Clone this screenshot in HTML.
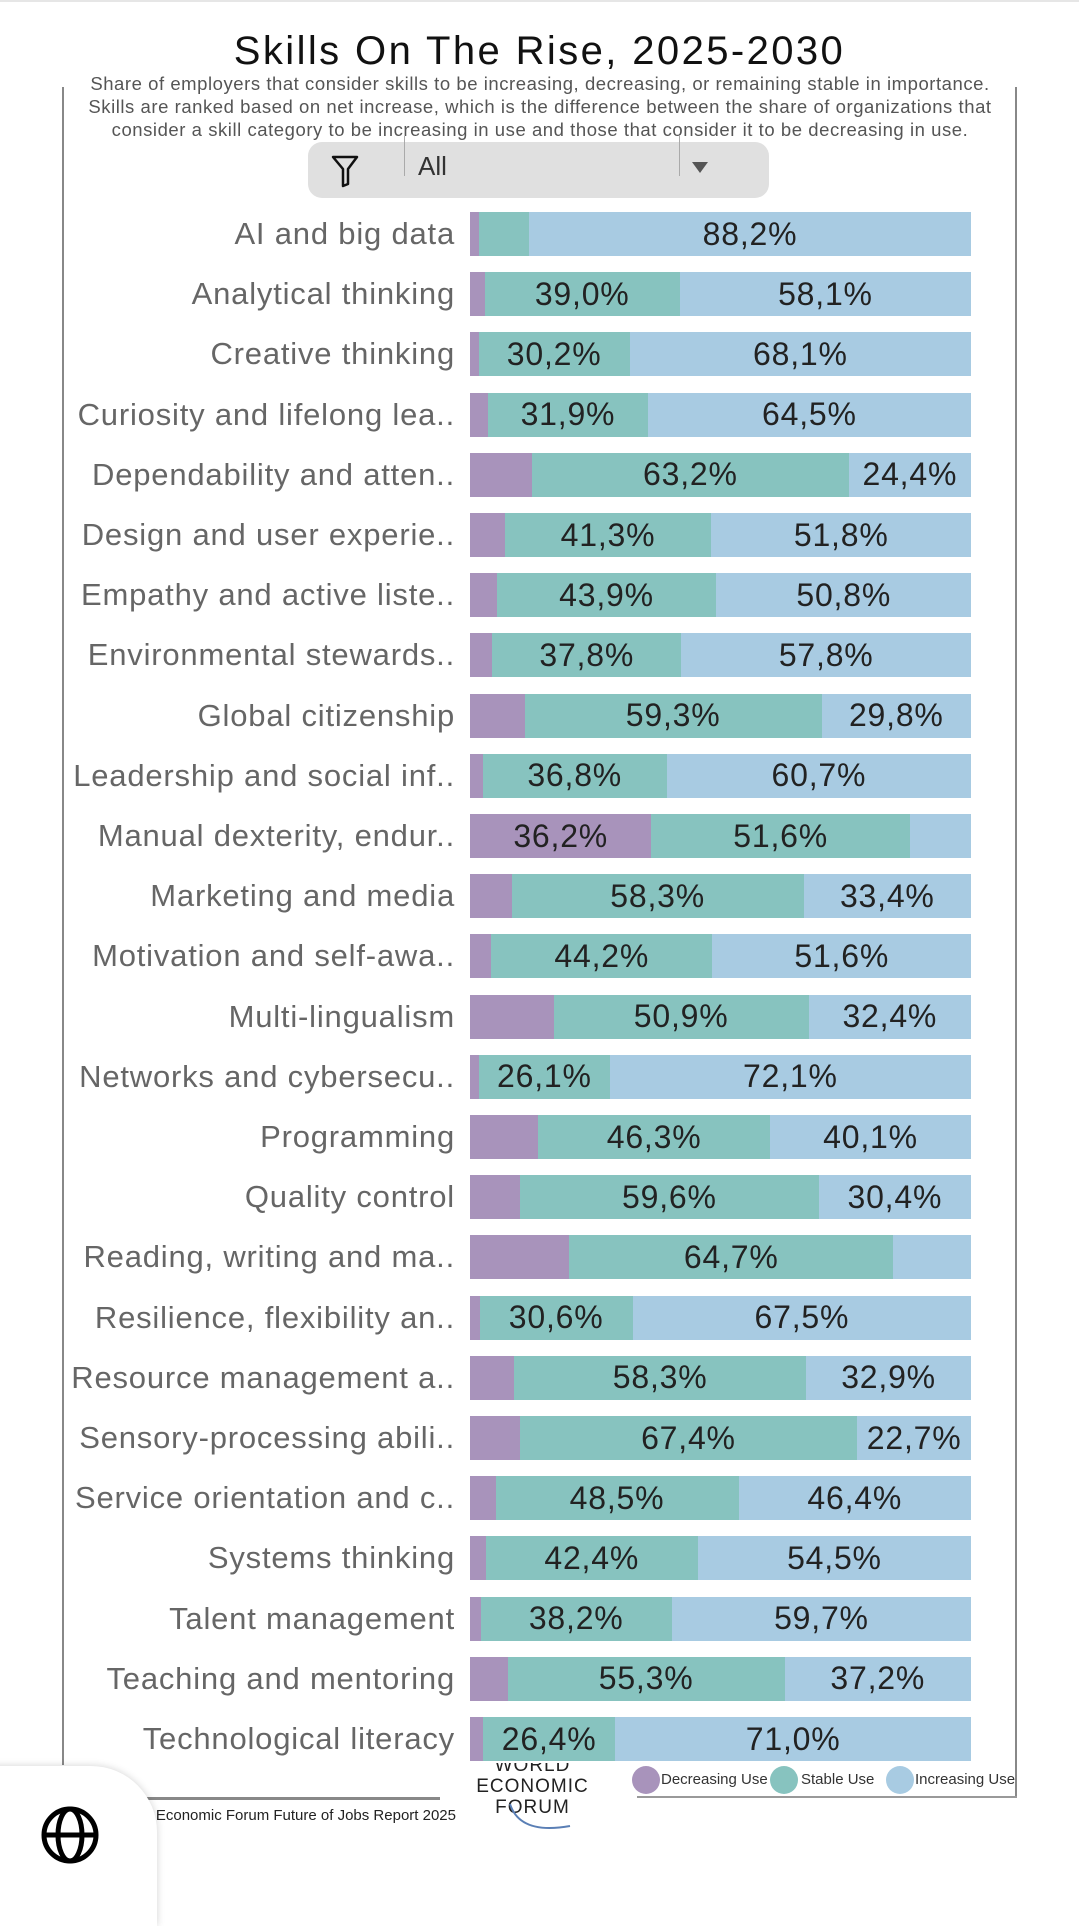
<!DOCTYPE html>
<html><head><meta charset="utf-8"><style>
*{margin:0;padding:0;box-sizing:border-box}
body{width:1079px;height:1895px;background:#fff;position:relative;overflow:hidden;font-family:"Liberation Sans",sans-serif}
.abs{position:absolute}
.title{left:0;width:1079px;top:28px;text-align:center;font-size:40px;letter-spacing:2.4px;color:#111;line-height:46px}
.sub{left:40px;width:1000px;top:72px;text-align:center;font-size:18.5px;letter-spacing:0.55px;color:#555;line-height:23px;white-space:nowrap}
.lbl{position:absolute;right:624px;width:440px;text-align:right;font-size:31px;letter-spacing:0.8px;color:#666;line-height:44px;white-space:nowrap}
.bar{position:absolute;left:470px;width:501px;height:44px;display:flex}
.bar div{height:100%;display:flex;align-items:center;justify-content:center;font-size:32px;letter-spacing:0.8px;color:#222;overflow:visible;white-space:nowrap}
.d{background:#a893bb}.s{background:#87c3bf}.i{background:#a8cbe2}
.leg{font-size:15px;color:#333;top:1770px;line-height:20px}
.dot{width:28px;height:28px;border-radius:50%;top:1766px}
</style></head><body>
<div class="abs" style="left:0;top:0;width:1079px;height:2px;background:#e6e6e6"></div>
<div class="abs" style="left:62px;top:87px;width:2px;height:1678px;background:#888"></div>
<div class="abs" style="left:1015px;top:87px;width:2px;height:1711px;background:#888"></div>
<div class="abs" style="left:637px;top:1796px;width:380px;height:2px;background:#999"></div>
<div class="abs title">Skills On The Rise, 2025-2030</div>
<div class="abs sub">Share of employers that consider skills to be increasing, decreasing, or remaining stable in importance.<br>Skills are ranked based on net increase, which is the difference between the share of organizations that<br>consider a skill category to be increasing in use and those that consider it to be decreasing in use.</div>
<div class="abs" style="left:308px;top:142px;width:461px;height:56px;background:#e0e0e0;border-radius:14px"></div>
<svg class="abs" style="left:330px;top:154px" width="30" height="34" viewBox="0 0 30 34"><path d="M3 3 H27 L18 15 V30 L13 32 V15 Z" fill="none" stroke="#111" stroke-width="2.5" stroke-linejoin="round"/></svg>
<div class="abs" style="left:404px;top:136px;width:1px;height:40px;background:#aaa"></div>
<div class="abs" style="left:679px;top:136px;width:1px;height:40px;background:#aaa"></div>
<div class="abs" style="left:418px;top:151px;font-size:26px;color:#333">All</div>
<div class="abs" style="left:692px;top:162px;width:0;height:0;border-left:8px solid transparent;border-right:8px solid transparent;border-top:11px solid #555"></div>
<div id="rows"></div>
<script>
var D=[["AI and big data",1.7,10.1,88.2,"","88,2%"],["Analytical thinking",2.9,39.0,58.1],["Creative thinking",1.7,30.2,68.1],["Curiosity and lifelong lea..",3.6,31.9,64.5],["Dependability and atten..",12.4,63.2,24.4],["Design and user experie..",6.9,41.3,51.8],["Empathy and active liste..",5.3,43.9,50.8],["Environmental stewards..",4.4,37.8,57.8],["Global citizenship",10.9,59.3,29.8],["Leadership and social inf..",2.5,36.8,60.7],["Manual dexterity, endur..",36.2,51.6,12.2,"d"],["Marketing and media",8.3,58.3,33.4],["Motivation and self-awa..",4.2,44.2,51.6],["Multi-lingualism",16.7,50.9,32.4],["Networks and cybersecu..",1.8,26.1,72.1],["Programming",13.6,46.3,40.1],["Quality control",10.0,59.6,30.4],["Reading, writing and ma..",19.8,64.7,15.5,"s"],["Resilience, flexibility an..",1.9,30.6,67.5],["Resource management a..",8.8,58.3,32.9],["Sensory-processing abili..",9.9,67.4,22.7],["Service orientation and c..",5.1,48.5,46.4],["Systems thinking",3.1,42.4,54.5],["Talent management",2.1,38.2,59.7],["Teaching and mentoring",7.5,55.3,37.2],["Technological literacy",2.6,26.4,71.0]];
function f(v){return v.toFixed(1).replace('.',',')+'%'}
var h='';D.forEach(function(r,k){var y=212+k*60.2;var m=r[4];
var dl=m=='d'?f(r[1]):'',sl=(m==''&&k==0)?'':f(r[2]),il=(m=='d'||m=='s')?'':f(r[3]);
h+='<div class="lbl" style="top:'+y+'px">'+r[0]+'</div><div class="bar" style="top:'+y+'px"><div class="d" style="width:'+r[1]+'%">'+dl+'</div><div class="s" style="width:'+r[2]+'%">'+sl+'</div><div class="i" style="width:'+r[3]+'%">'+il+'</div></div>';});
document.getElementById('rows').innerHTML=h;
</script>
<div class="abs dot" style="left:632px;background:#a893bb"></div><div class="abs leg" style="left:661px">Decreasing Use</div>
<div class="abs dot" style="left:770px;background:#87c3bf"></div><div class="abs leg" style="left:801px">Stable Use</div>
<div class="abs dot" style="left:886px;background:#a8cbe2"></div><div class="abs leg" style="left:915px">Increasing Use</div>
<div class="abs" style="left:475px;top:1763px;width:115px;text-align:center;font-size:19px;line-height:21px;color:#222;letter-spacing:1px;overflow:hidden;height:66px"><div style="margin-top:-8px">WORLD</div>ECONOMIC<br>FORUM</div>
<svg class="abs" style="left:500px;top:1800px" width="80" height="40"><path d="M10 4 Q20 35 70 26" fill="none" stroke="#5a7fb5" stroke-width="2"/></svg>
<div class="abs" style="left:128px;top:1797px;width:312px;height:3px;background:#888"></div>
<div class="abs" style="left:60px;top:1807px;width:396px;text-align:right;font-size:15px;color:#222">World Economic Forum Future of Jobs Report 2025</div>
<div class="abs" style="left:-20px;top:1766px;width:177px;height:160px;background:#fff;border-radius:0 66px 0 0;box-shadow:0 0 8px rgba(0,0,0,0.18)"></div>
<svg class="abs" style="left:40px;top:1805px" width="60" height="60" viewBox="0 0 60 60"><g fill="none" stroke="#000" stroke-width="5"><circle cx="30" cy="30" r="26"/><ellipse cx="30" cy="30" rx="12" ry="26"/><line x1="4" y1="30" x2="56" y2="30"/></g></svg>
</body></html>
